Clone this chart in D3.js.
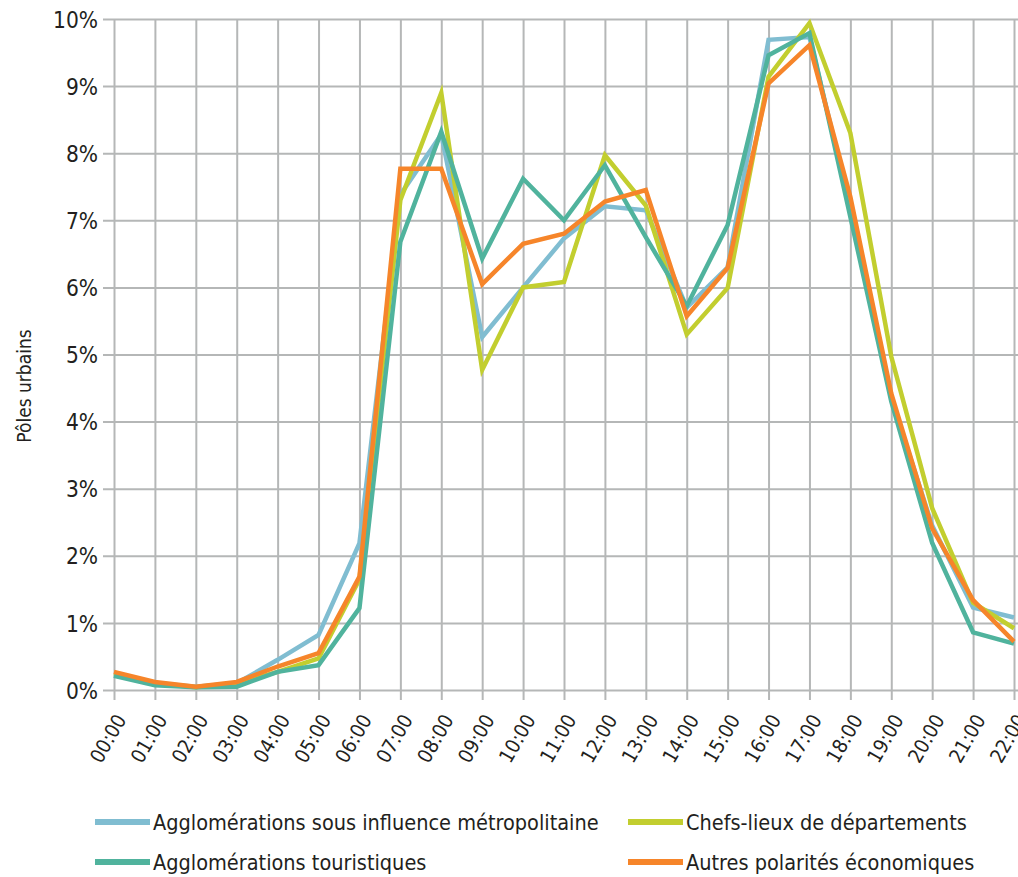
<!DOCTYPE html>
<html>
<head>
<meta charset="utf-8">
<script src="https://cdn.jsdelivr.net/npm/d3@7"></script>
<style>
  html, body { margin: 0; padding: 0; background: #fff; }
  svg { display: block; }
  text { font-family: "Liberation Sans Narrow", "DejaVu Sans Condensed", "DejaVu Sans", sans-serif; fill: #231f20; }
</style>
</head>
<body>
<svg id="chart" width="1018" height="877"></svg>
<script>
const hours = ["00:00","01:00","02:00","03:00","04:00","05:00","06:00","07:00","08:00","09:00","10:00","11:00",
               "12:00","13:00","14:00","15:00","16:00","17:00","18:00","19:00","20:00","21:00","22:00"];
const yTicks = [0,1,2,3,4,5,6,7,8,9,10];
const seriesNames = ["Agglomérations sous influence métropolitaine","Chefs-lieux de départements",
                     "Agglomérations touristiques","Autres polarités économiques"];
const seriesColors = ["#80bdd1","#c2ce2f","#50b39d","#f6852a"];

const metropolitaine = [0.22,0.10,0.05,0.10,0.45,0.82,2.19,7.38,8.28,5.26,6.00,6.73,7.21,7.15,5.70,6.30,9.69,9.73,7.20,4.35,2.45,1.23,1.08];
const chefsLieux     = [0.25,0.10,0.04,0.10,0.27,0.47,1.65,7.30,8.90,4.77,6.00,6.08,7.97,7.22,5.30,5.99,9.14,9.94,8.30,4.97,2.71,1.30,0.92];
const touristiques   = [0.21,0.07,0.04,0.05,0.27,0.37,1.22,6.68,8.32,6.43,7.62,7.00,7.82,6.75,5.72,6.93,9.46,9.79,7.05,4.30,2.19,0.86,0.69];
const autres         = [0.27,0.12,0.05,0.12,0.35,0.55,1.69,7.77,7.77,6.05,6.65,6.80,7.28,7.45,5.57,6.29,9.04,9.61,7.35,4.42,2.41,1.34,0.72];
const seriesValues = [metropolitaine, chefsLieux, touristiques, autres];

const svg = d3.select("#chart");
const W = 1018;
const x = d3.scalePoint().domain(hours).range([114, 1014]).padding(0);
const y = d3.scaleLinear().domain([0, 10]).range([690, 19]);

const grid = "#b5b7b7";

// horizontal gridlines + y ticks (left stubs)
const yAxis = d3.axisLeft(y).tickValues(yTicks).tickSize(-(W - 103)).tickPadding(6)
  .tickFormat(d => d + "%");
svg.append("g").attr("transform", "translate(103,0)").call(yAxis)
  .call(g => g.select(".domain").remove())
  .call(g => g.selectAll(".tick line").attr("stroke", grid).attr("stroke-width", 2))
  .call(g => g.selectAll(".tick text").attr("font-size", 22.5).attr("dy", "0.36em").attr("x", -5));

// vertical gridlines + x ticks (bottom stubs)
const xAxis = d3.axisBottom(x).tickSize(-(700 - 19)).tickFormat("");
svg.append("g").attr("transform", "translate(0,700)").call(xAxis)
  .call(g => g.select(".domain").remove())
  .call(g => g.selectAll(".tick line").attr("stroke", grid).attr("stroke-width", 2));

// x labels rotated
svg.append("g").selectAll("text").data(hours).join("text")
  .attr("transform", d => `translate(${x(d) + 7},716) rotate(-60)`)
  .attr("text-anchor", "end")
  .attr("dy", "0.35em")
  .attr("font-size", 20)
  .text(d => d);

// y title
svg.append("text")
  .attr("transform", "translate(24,386) rotate(-90)")
  .attr("text-anchor", "middle")
  .attr("dy", "0.35em")
  .attr("font-size", 19)
  .text("Pôles urbains");

// lines
const line = d3.line().x((d, i) => x(hours[i])).y(d => y(d));
svg.append("g").selectAll("path").data(seriesValues).join("path")
  .attr("d", d => line(d))
  .attr("fill", "none")
  .attr("stroke", (d, i) => seriesColors[i])
  .attr("stroke-width", 4.5)
  .attr("stroke-linejoin", "miter");

// legend
const legPos = [[95, 822], [628, 822], [95, 862], [628, 862]];
const leg = svg.append("g").selectAll("g").data(seriesNames).join("g")
  .attr("transform", (d, i) => `translate(${legPos[i][0]},${legPos[i][1]})`);
leg.append("rect").attr("x", 0).attr("y", -3).attr("width", 55).attr("height", 6)
  .attr("fill", (d, i) => seriesColors[i]);
leg.append("text").attr("x", 58).attr("dy", "0.35em").attr("font-size", 21.5).text(d => d);
</script>
</body>
</html>
